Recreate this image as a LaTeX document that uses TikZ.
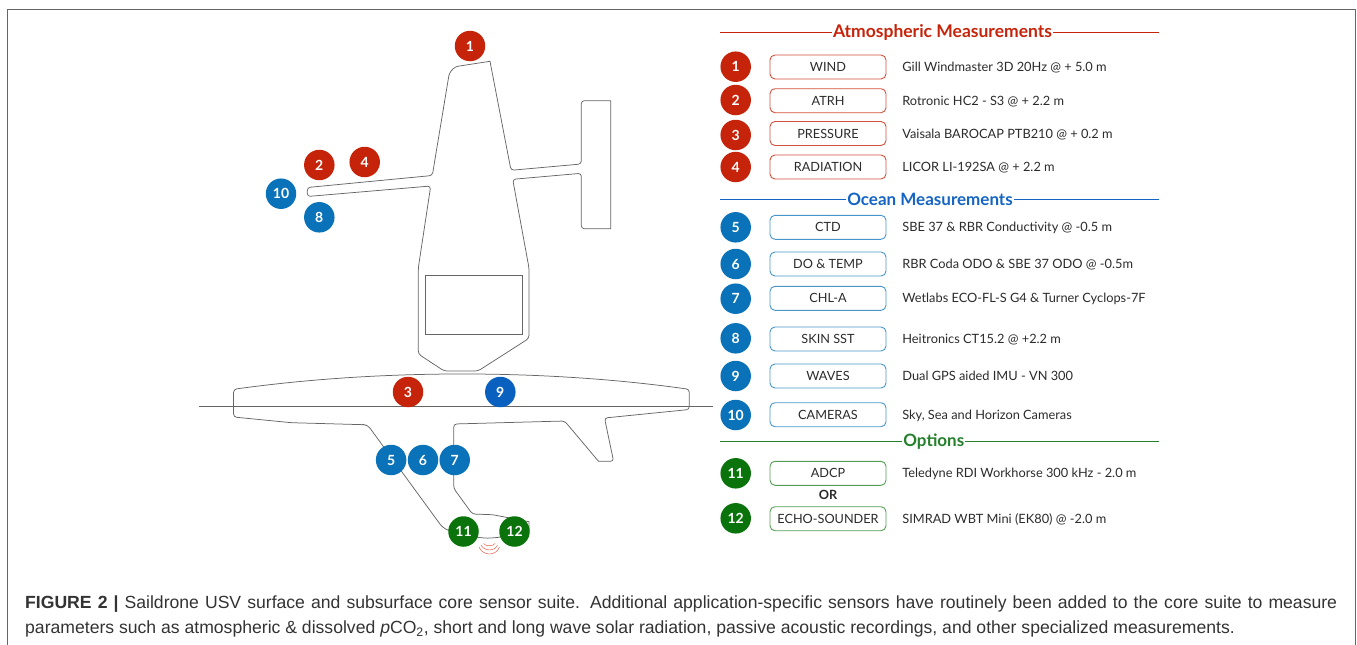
\documentclass[tikz,border=0pt]{standalone}
\usepackage{fontspec}
\setmainfont{Lato}
\newfontfamily\capfont{Liberation Sans}
\usepackage{xcolor}
\usepackage{tikz}
\usetikzlibrary{
  positioning
}
\definecolor{usvAtm}{HTML}{C6240A}
\definecolor{usvOcean}{HTML}{0A72B8}
\definecolor{usvWave}{HTML}{0A60BE}
\definecolor{usvOpt}{HTML}{0B730B}
\definecolor{usvHeadO}{HTML}{1464C4}
\definecolor{usvHeadG}{HTML}{24802A}
\definecolor{usvLine}{HTML}{666666}
\definecolor{usvText}{HTML}{2B2B2B}
\definecolor{usvCap}{HTML}{333333}
\definecolor{usvSonar}{HTML}{E8604C}
\tikzset{
  badge/.style={
    circle, minimum size=30.5pt, inner sep=0pt, text=white,
    font=\fontsize{14}{14}\selectfont\bfseries
  },
  atmbadge/.style={badge, fill=usvAtm},
  oceanbadge/.style={badge, fill=usvOcean},
  optbadge/.style={badge, fill=usvOpt},
  tagbox/.style={
    draw, rounded corners=5pt, minimum height=24pt, minimum width=116pt, inner sep=0pt,
    line width=0.9pt, text=usvText, font=\fontsize{12.7}{14}\selectfont,
    text height=9pt, text depth=0pt
  },
  atmbox/.style={tagbox, draw=usvAtm!80},
  oceanbox/.style={tagbox, draw=usvOcean!75},
  optbox/.style={tagbox, draw=usvOpt!70},
  desc/.style={
    inner sep=0pt, text=usvText, font=\fontsize{12.8}{14}\selectfont,
    text height=9pt, text depth=0pt, anchor=west
  },
  headtext/.style={inner xsep=1pt, inner ysep=0pt, font=\fontsize{17}{18}\selectfont\bfseries},
  headline/.style={line width=0.9pt},
  hullline/.style={draw=usvLine, line width=0.75pt, rounded corners=3pt}
}
\begin{document}
\begin{tikzpicture}[x=1pt, y=-1pt]
  \useasboundingbox (0,0) rectangle (1357,645);
  \draw[usvLine, line width=1pt] (7,645) -- (7,9) -- (1355,9) -- (1355,645);

  \draw[hullline] (490,61.3) -- (455,66.7) -- (449.3,73) -- (432.3,175.5) -- (307.3,187.5) -- (307.3,196.5)
    -- (430.7,186) -- (418.3,268) -- (418.3,354) -- (444.2,371) -- (478,371) -- (529,338.3)
    -- (529,268) -- (512.7,179.3) -- (581.3,173.3) -- (581.3,228.7) [sharp corners] -- (610.7,228.7) -- (610.7,100.7)
    [rounded corners=3pt] -- (581.3,100.7) -- (581.3,164) -- (511,170.3) [sharp corners] -- cycle;
  \draw[usvLine, line width=0.75pt] (425.6,275) rectangle (522.7,334.3);
  \draw[usvLine, line width=0.75pt] (199,406.7) -- (713.3,406.7);
  \draw[hullline] (233.6,389.3) .. controls (380,369) and (545,369) .. (689.3,389.3)
    -- (689.3,409.5) -- (604.5,418) -- (613.6,461.3) [sharp corners] -- (598.5,461.3) [rounded corners=3pt] -- (564.6,421)
    -- (453.7,424) -- (453.7,488.3) -- (472.3,514) -- (492.6,514.7) [sharp corners] -- (529,521.7) -- (529,530)
    [rounded corners=3pt] -- (499.3,537.3) -- (487.5,538.3) -- (477.4,537.3) -- (448.6,530.7) -- (441.9,526.7)
    -- (368.2,425.7) -- (364,424.7) -- (291.4,422.7) -- (233.6,417) -- cycle;
  \draw[usvSonar, line width=0.5pt] (483.5,543.5) .. controls (485.5,546.5) and (493,546.5) .. (495,543.5)
    (481,545) .. controls (484,551.5) and (495,551.5) .. (497.5,545)
    (479,547) .. controls (483,556.3) and (496,556.3) .. (499.5,547);

  \node[atmbadge] (v1) at (470,46) {1};
  \node[atmbadge] (v2) at (319.3,165) {2};
  \node[atmbadge] (v3) at (408,392) {3};
  \node[atmbadge] (v4) at (364.7,162) {4};
  \node[oceanbadge] (v5) at (391.1,460) {5};
  \node[oceanbadge] (v6) at (423,460) {6};
  \node[oceanbadge] (v7) at (454.7,460) {7};
  \node[oceanbadge] (v8) at (319.3,217.3) {8};
  \node[badge, fill=usvWave] (v9) at (500.3,392) {9};
  \node[oceanbadge] (v10) at (281,193.7) {10};
  \node[optbadge] (v11) at (463.5,531.5) {11};
  \node[optbadge] (v12) at (514.5,531.5) {12};

  \coordinate (atmL) at (720.3,32.3);
  \coordinate (atmR) at (1159,32.3);
  \node[headtext, text=usvAtm, font=\fontsize{17.5}{18}\selectfont\bfseries] (atmhead) at (942.5,32.3) {Atmospheric Measurements};
  \draw[headline, usvAtm] (atmL) -- (atmhead) -- (atmR);
  \coordinate (oceanL) at (720.3,199);
  \coordinate (oceanR) at (1159,199);
  \node[headtext, text=usvHeadO] (oceanhead) at (930,199) {Ocean Measurements};
  \draw[headline, usvHeadO] (oceanL) -- (oceanhead) -- (oceanR);
  \coordinate (optL) at (720.3,441.7);
  \coordinate (optR) at (1159,441.7);
  \node[headtext, text=usvHeadG] (opthead) at (933.8,441.7) {Options};
  \draw[headline, usvHeadG] (optL) -- (opthead) -- (optR);

  \node[atmbadge] (n1) at (735.7,66.7) {1};
  \node[atmbox] (wind) at (828,67) {WIND};
  \node[desc, right=15.7pt of wind] (dwind) {Gill Windmaster 3D 20Hz @ + 5.0 m};
  \node[atmbadge] (n2) at (735.7,100) {2};
  \node[atmbox] (atrh) at (828,100.7) {ATRH};
  \node[desc, right=15.7pt of atrh] (datrh) {Rotronic HC2 - S3 @ + 2.2 m};
  \node[atmbadge] (n3) at (735.7,135) {3};
  \node[atmbox] (pressure) at (828,133.5) {PRESSURE};
  \node[desc, right=15.7pt of pressure] (dpressure) {Vaisala BAROCAP PTB210 @ + 0.2 m};
  \node[atmbadge] (n4) at (735.7,167) {4};
  \node[atmbox] (radiation) at (828,167) {RADIATION};
  \node[desc, right=15.7pt of radiation] (dradiation) {LICOR LI-192SA @ + 2.2 m};

  \node[oceanbadge] (n5) at (735.7,227.3) {5};
  \node[oceanbox] (ctd) at (828,227.3) {CTD};
  \node[desc, right=15.7pt of ctd] (dctd) {SBE 37 \& RBR Conductivity @ -0.5 m};
  \node[oceanbadge] (n6) at (735.7,264) {6};
  \node[oceanbox] (dotemp) at (828,264) {DO \& TEMP};
  \node[desc, right=15.7pt of dotemp] (ddotemp) {RBR Coda ODO \& SBE 37 ODO @ -0.5m};
  \node[oceanbadge] (n7) at (735.7,298.7) {7};
  \node[oceanbox] (chla) at (828,298.3) {CHL-A};
  \node[desc, right=15.7pt of chla] (dchla) {Wetlabs ECO-FL-S G4 \& Turner Cyclops-7F};
  \node[oceanbadge] (n8) at (735.7,338.3) {8};
  \node[oceanbox] (skin) at (828,339) {SKIN SST};
  \node[desc, right=15.7pt of skin] (dskin) {Heitronics CT15.2 @ +2.2 m};
  \node[oceanbadge] (n9) at (735.7,376) {9};
  \node[oceanbox] (waves) at (828,376) {WAVES};
  \node[desc, right=15.7pt of waves] (dwaves) {Dual GPS aided IMU - VN 300};
  \node[oceanbadge] (n10) at (735.7,415) {10};
  \node[oceanbox] (cameras) at (828,414.7) {CAMERAS};
  \node[desc, right=15.7pt of cameras] (dcameras) {Sky, Sea and Horizon Cameras};

  \node[optbadge] (n11) at (735.7,473.3) {11};
  \node[optbox] (adcp) at (828,473.3) {ADCP};
  \node[desc, right=15.7pt of adcp] (dadcp) {Teledyne RDI Workhorse 300 kHz - 2.0 m};
  \node[inner sep=0pt, text=usvText, font=\fontsize{12.7}{14}\selectfont\bfseries] (orlabel) at (828,495.3) {OR};
  \node[optbadge] (n12) at (735.7,518.3) {12};
  \node[optbox] (echo) at (828,518.7) {ECHO-SOUNDER};
  \node[desc, right=15.7pt of echo] (decho) {SIMRAD WBT Mini (EK80) @ -2.0 m};

  \node[anchor=north west, inner sep=0pt, align=left, text=usvCap, font=\capfont\fontsize{17.6}{25}\selectfont] (caption) at (25,596)
    {\makebox[1312pt][s]{{\bfseries FIGURE 2 |} Saildrone USV surface and subsurface core sensor suite. Additional application-specific sensors have routinely been added to the core suite to measure}\\
    parameters such as atmospheric \& dissolved \textit{p}CO\textsubscript{2}, short and long wave solar radiation, passive acoustic recordings, and other specialized measurements.};
\end{tikzpicture}
\end{document}
